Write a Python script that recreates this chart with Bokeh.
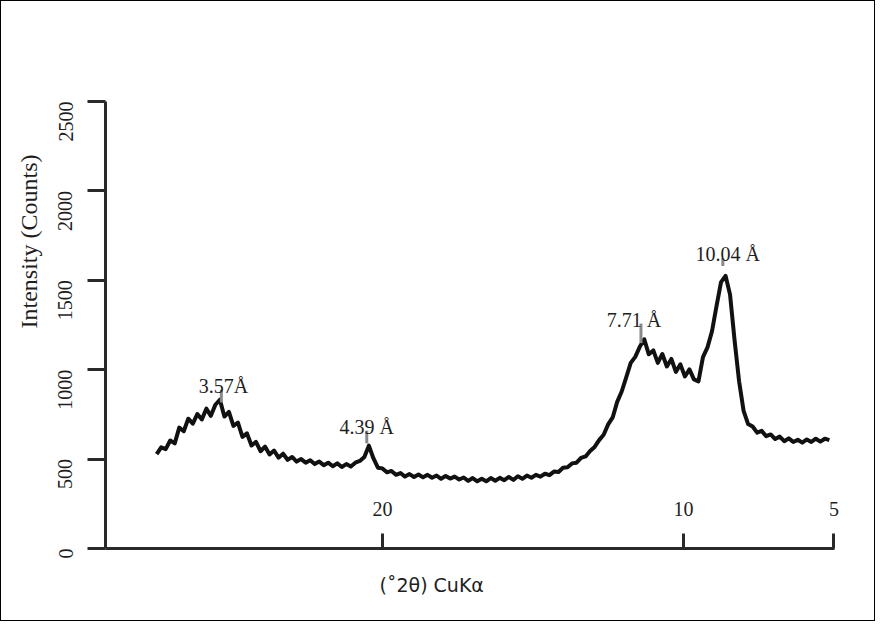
import math
from bokeh.plotting import figure
from bokeh.models import Range1d, FixedTicker, Title, ColumnDataSource
from bokeh.core.properties import value
from bokeh.embed import file_html
from bokeh.resources import INLINE

# ---- data ----
two_theta = [
    27.50, 27.35, 27.20, 27.05, 26.90, 26.75, 26.60, 26.45, 26.30, 26.15,
    26.00, 25.85, 25.70, 25.55, 25.40, 25.25, 25.10, 24.95, 24.80, 24.65,
    24.50, 24.35, 24.20, 24.05, 23.90, 23.75, 23.60, 23.45, 23.30, 23.15,
    23.00, 22.85, 22.70, 22.55, 22.40, 22.25, 22.10, 21.95, 21.80, 21.65,
    21.50, 21.35, 21.20, 21.05, 20.90, 20.75, 20.60, 20.45, 20.30, 20.15,
    20.00, 19.85, 19.70, 19.55, 19.40, 19.25, 19.10, 18.95, 18.80, 18.65,
    18.50, 18.35, 18.20, 18.05, 17.90, 17.75, 17.60, 17.45, 17.30, 17.15,
    17.00, 16.85, 16.70, 16.55, 16.40, 16.25, 16.10, 15.95, 15.80, 15.65,
    15.50, 15.35, 15.20, 15.05, 14.90, 14.75, 14.60, 14.45, 14.30, 14.15,
    14.00, 13.85, 13.70, 13.55, 13.40, 13.25, 13.10, 12.95, 12.80, 12.65,
    12.50, 12.35, 12.20, 12.05, 11.90, 11.75, 11.60, 11.45, 11.30, 11.15,
    11.00, 10.85, 10.70, 10.55, 10.40, 10.25, 10.10, 9.95, 9.80, 9.65,
    9.50, 9.35, 9.20, 9.05, 8.90, 8.75, 8.60, 8.45, 8.30, 8.15,
    8.00, 7.85, 7.70, 7.55, 7.40, 7.25, 7.10, 6.95, 6.80, 6.65,
    6.50, 6.35, 6.20, 6.05, 5.90, 5.75, 5.60, 5.45, 5.30, 5.15,
]
counts = [
    528, 566, 556, 604, 588, 676, 656, 726, 698, 752,
    722, 782, 742, 804, 832, 738, 764, 686, 704, 624,
    644, 576, 596, 544, 570, 526, 548, 508, 530, 496,
    512, 486, 500, 480, 494, 472, 486, 466, 480, 460,
    476, 456, 472, 458, 480, 490, 512, 575, 505, 452,
    448, 426, 434, 412, 422, 402, 416, 400, 414, 398,
    412, 396, 408, 390, 406, 391, 402, 386, 397, 378,
    394, 376, 390, 376, 394, 379, 395, 382, 400, 384,
    404, 390, 408, 396, 412, 402, 418, 410, 430, 428,
    452, 454, 476, 480, 507, 515, 545, 568, 606, 636,
    694, 733, 820, 878, 957, 1038, 1072, 1128, 1170, 1086,
    1108, 1038, 1088, 1018, 1060, 988, 1030, 962, 1002, 946,
    935, 1070, 1125, 1215, 1355, 1490, 1525, 1420, 1165, 935,
    770, 696, 682, 648, 658, 628, 638, 612, 626, 600,
    616, 596, 608, 592, 610, 596, 614, 598, 614, 606,
]

peak_labels = ["3.57\u00c5", "4.39 \u00c5", "7.71 \u00c5", "10.04 \u00c5"]
peak_2theta = [25.35, 20.52, 11.41, 8.69]
peak_mark_top = [888, 659, 1258, 1623]
peak_mark_bottom = [817, 588, 1149, 1580]

x_ticks = [20, 10, 5]
y_ticks = [0, 500, 1000, 1500, 2000, 2500]

x_title = "(\u02da2\u03b8) CuK\u03b1"
y_title = "Intensity (Counts)"

# ---- style / layout ----
label_dx = [2, 0, -7, 5]
ink = "#1e1e1e"
axis_col = "#2a2a2a"

p = figure(width=875, height=621,
           x_range=Range1d(29.2, 4.98), y_range=Range1d(0, 2500),
           output_backend="svg", toolbar_location=None, title=None,
           min_border_left=104, min_border_right=42,
           min_border_top=100, min_border_bottom=74)
p.styles = {"border": "1px solid #000"}
p.outline_line_color = None
p.grid.visible = False
p.background_fill_color = "white"
p.border_fill_color = "white"

for ax in (p.xaxis[0], p.yaxis[0]):
    ax.axis_line_width = 3
    ax.axis_line_color = axis_col
    ax.major_tick_line_width = 3
    ax.major_tick_line_color = axis_col
    ax.minor_tick_line_color = None
    ax.major_label_text_font = "Liberation Serif"
    ax.major_label_text_font_size = "20px"
    ax.major_label_text_color = ink

p.xaxis.ticker = FixedTicker(ticks=x_ticks)
p.xaxis.major_tick_in = 15
p.xaxis.major_tick_out = 0
p.xaxis.major_label_standoff = -47

p.yaxis.ticker = FixedTicker(ticks=y_ticks)
p.yaxis.major_tick_in = 0
p.yaxis.major_tick_out = 18
p.yaxis.major_label_standoff = 22
p.yaxis.major_label_orientation = math.pi / 2

# axis titles, placed along the axes as in the picture
p.add_layout(Title(text=y_title, align="right", offset=53, standoff=14,
                   text_font="Liberation Serif", text_font_size="24px",
                   text_font_style="normal", text_color=ink), "left")
p.add_layout(Title(text=x_title, align="left", offset=274, standoff=47,
                   text_font="DejaVu Sans", text_font_size="19px",
                   text_font_style="normal", text_color=ink), "below")

# data trace
p.line(two_theta, counts, line_width=4, line_color="#111111", line_join="round")

# peak markers and labels
src = ColumnDataSource(dict(x=peak_2theta, top=peak_mark_top, bottom=peak_mark_bottom,
                            label=peak_labels, dx=label_dx))
p.segment(x0="x", y0="bottom", x1="x", y1="top", source=src,
          line_width=3, line_color="#8a8a8a")
p.text(x="x", y="top", text="label", source=src, x_offset="dx", y_offset=-4,
       text_align="center", text_baseline="alphabetic",
       text_font=value("Liberation Serif"), text_font_size="20px", text_color=ink)

open("out.html", "w").write(file_html(p, INLINE))
